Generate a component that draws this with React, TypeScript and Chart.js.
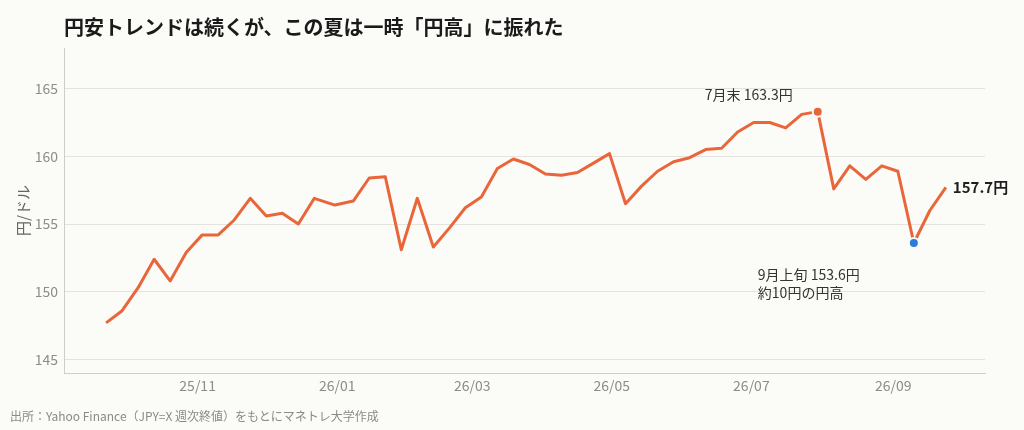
import { useEffect, useRef } from 'react'
import { Chart, registerables } from 'chart.js'

Chart.register(...registerables)

const TITLE = '円安トレンドは続くが、この夏は一時「円高」に振れた'
const SOURCE = '出所：Yahoo Finance（JPY=X 週次終値）をもとにマネトレ大学作成'
const Y_TITLE = '円/ドル'

// weekly closes, dates
const weekDates = [
  '2025-09-22', '2025-09-29', '2025-10-06', '2025-10-13', '2025-10-20', '2025-10-27',
  '2025-11-03', '2025-11-10', '2025-11-17', '2025-11-24', '2025-12-01', '2025-12-08',
  '2025-12-15', '2025-12-22', '2025-12-31', '2026-01-08', '2026-01-15', '2026-01-22',
  '2026-01-29', '2026-02-05', '2026-02-12', '2026-02-19', '2026-02-26', '2026-03-05',
  '2026-03-12', '2026-03-19', '2026-03-26', '2026-04-02', '2026-04-09', '2026-04-16',
  '2026-04-23', '2026-04-30', '2026-05-07', '2026-05-14', '2026-05-21', '2026-05-28',
  '2026-06-04', '2026-06-11', '2026-06-18', '2026-06-25', '2026-07-02', '2026-07-09',
  '2026-07-16', '2026-07-23', '2026-07-30', '2026-08-06', '2026-08-13', '2026-08-20',
  '2026-08-27', '2026-09-03', '2026-09-10', '2026-09-17', '2026-09-24',
]

// yen per dollar
const usdJpy = [
  147.7, 148.6, 150.3, 152.4, 150.8, 152.9, 154.2, 154.2, 155.3, 156.9,
  155.6, 155.8, 155.0, 156.9, 156.4, 156.7, 158.4, 158.5, 153.1, 156.9,
  153.3, 154.7, 156.2, 157.0, 159.1, 159.8, 159.4, 158.7, 158.6, 158.8,
  159.5, 160.2, 156.5, 157.8, 158.9, 159.6, 159.9, 160.5, 160.6, 161.8,
  162.5, 162.5, 162.1, 163.1, 163.3, 157.6, 159.3, 158.3, 159.3, 158.9,
  153.6, 156.0, 157.7,
]

const yTicks = [145, 150, 155, 160, 165]
const monthTicks = ['2025-11-01', '2026-01-01', '2026-03-01', '2026-05-01', '2026-07-01', '2026-09-01']
const monthLabels = ['25/11', '26/01', '26/03', '26/05', '26/07', '26/09']

const LINE = '#e9663a'
const LOW = '#2b7ddb'
const BG = '#fbfbf8'
const FONT = '"Noto Sans CJK JP", "Noto Sans", sans-serif'

const toDay = (s: string) => Date.parse(s + 'T00:00:00Z') / 86400000

// summer peak, then the low that followed it
const hiIdx = usdJpy.indexOf(Math.max(...usdJpy))
const afterPeak = usdJpy.slice(hiIdx)
const loIdx = hiIdx + afterPeak.indexOf(Math.min(...afterPeak))
const lastIdx = usdJpy.length - 1

const notes = {
  id: 'notes',
  afterDatasetsDraw(chart: any) {
    const { ctx, scales } = chart
    const { x, y } = scales
    const px = (i: number) => x.getPixelForValue(toDay(weekDates[i]))
    const py = (i: number) => y.getPixelForValue(usdJpy[i])
    ctx.save()
    ctx.textBaseline = 'middle'
    ctx.fillStyle = '#333'
    ctx.font = `14px ${FONT}`
    ctx.textAlign = 'right'
    ctx.fillText(`7月末 ${usdJpy[hiIdx].toFixed(1)}円`, px(hiIdx) - 25, py(hiIdx) - 17)
    ctx.textAlign = 'left'
    ctx.fillText(`9月上旬 ${usdJpy[loIdx].toFixed(1)}円`, px(loIdx) - 156, py(loIdx) + 32)
    ctx.fillText('約10円の円高', px(loIdx) - 156, py(loIdx) + 50)
    ctx.fillStyle = '#1f1f1f'
    ctx.font = `bold 15px ${FONT}`
    ctx.fillText(`${usdJpy[lastIdx].toFixed(1)}円`, px(lastIdx) + 7, py(lastIdx))
    ctx.restore()
  },
}

function UsdJpyChart() {
  const canvasRef = useRef<HTMLCanvasElement>(null)

  useEffect(() => {
    document.body.style.margin = '0'
    document.body.style.background = BG
    if (!canvasRef.current) return

    const chart = new Chart(canvasRef.current, {
      type: 'line',
      data: {
        datasets: [{
          data: weekDates.map((d, i) => ({ x: toDay(d), y: usdJpy[i] })),
          borderColor: LINE,
          borderWidth: 3,
          borderJoinStyle: 'round',
          tension: 0,
          pointRadius: (c: any) => (c.dataIndex === hiIdx || c.dataIndex === loIdx ? 5 : 0),
          pointBackgroundColor: (c: any) => (c.dataIndex === loIdx ? LOW : LINE),
          pointBorderColor: BG,
          pointBorderWidth: 2,
        }],
      },
      options: {
        animation: false,
        responsive: true,
        maintainAspectRatio: false,
        layout: { padding: { top: 48, right: 39, bottom: 27, left: 0 } },
        plugins: {
          legend: { display: false },
          tooltip: { enabled: false },
        },
        scales: {
          x: {
            type: 'linear',
            min: toDay(weekDates[0]) - 18.4,
            max: toDay(weekDates[lastIdx]) + 17.1,
            afterBuildTicks: (s: any) => { s.ticks = monthTicks.map(d => ({ value: toDay(d) })) },
            afterFit: (s: any) => { s.height = 30 },
            grid: { display: false, drawTicks: false },
            border: { display: true, color: '#cfcfc9', width: 1 },
            ticks: {
              autoSkip: false,
              maxRotation: 0,
              padding: 4,
              color: '#8c8c8c',
              font: { family: FONT, size: 14 },
              callback: (_v: any, i: number) => monthLabels[i],
            },
          },
          y: {
            min: 144,
            max: 168,
            afterBuildTicks: (s: any) => { s.ticks = yTicks.map(v => ({ value: v })) },
            afterFit: (s: any) => { s.width = 64 },
            grid: { color: '#e4e3de', lineWidth: 1, drawTicks: false },
            border: { display: true, color: '#cfcfc9', width: 1 },
            ticks: {
              padding: 6,
              color: '#8c8c8c',
              font: { family: FONT, size: 14 },
            },
            title: {
              display: true,
              text: Y_TITLE,
              color: '#666',
              font: { family: FONT, size: 15 },
              padding: { top: 14, bottom: 0 },
            },
          },
        },
      },
      plugins: [notes],
    })

    return () => chart.destroy()
  }, [])

  return (
    <div style={{ position: 'relative', width: 1024, height: 430, background: BG, fontFamily: FONT }}>
      <div style={{ position: 'absolute', inset: 0 }}>
        <canvas ref={canvasRef} />
      </div>
      <div style={{ position: 'absolute', left: 64, top: 16, fontSize: 20, fontWeight: 700, lineHeight: '22px', color: '#1a1a1a', whiteSpace: 'nowrap' }}>
        {TITLE}
      </div>
      <div style={{ position: 'absolute', left: 10, top: 408, fontSize: 12, lineHeight: '16px', color: '#8a8a8a', whiteSpace: 'nowrap' }}>
        {SOURCE}
      </div>
    </div>
  )
}

export default function App() {
  return <UsdJpyChart />
}
